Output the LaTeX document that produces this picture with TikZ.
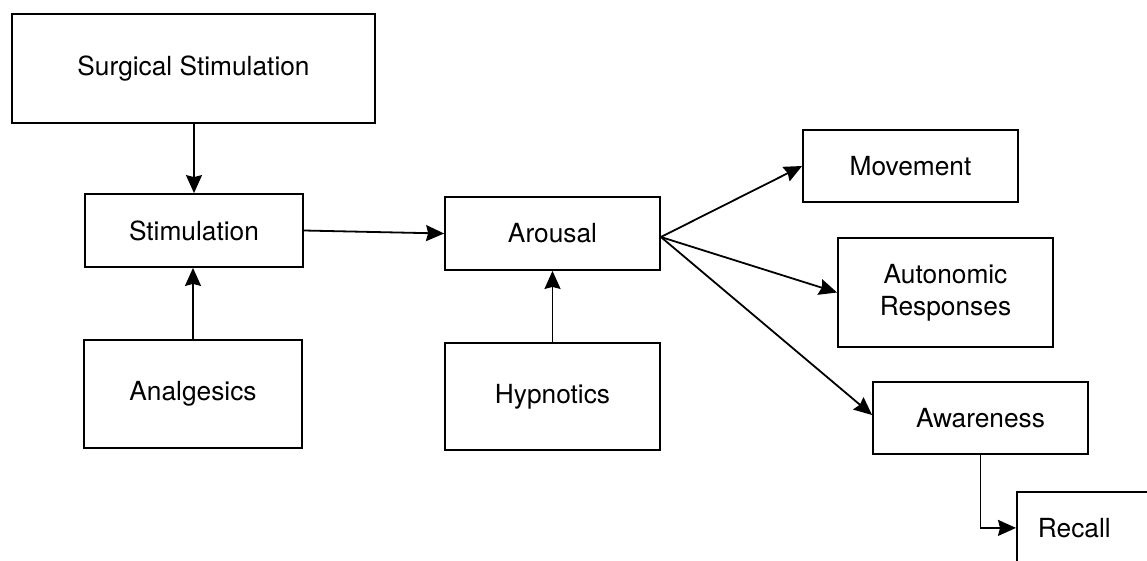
\documentclass[tikz,border=0pt]{standalone}
\usepackage{fontspec}
\setmainfont{TeX Gyre Heros}
\usetikzlibrary{arrows.meta}
\begin{document}
\begin{tikzpicture}[x=1pt,y=-1pt,
  box/.style={draw, line width=1.8pt, inner sep=0pt, align=center,
    font=\fontsize{26.3}{32}\selectfont},
  conn/.style={line width=1.8pt, -{Stealth[length=18pt,width=16pt,inset=2pt]}}]
\useasboundingbox (0,0) rectangle (1147,560);
\clip (0,0) rectangle (1147,560);

% left column: stimulus and analgesia
\node[box, minimum width=363pt, minimum height=109pt] (surg) at (193.5,68.5) {Surgical Stimulation};
\node[box, minimum width=218pt, minimum height=73pt] (stim) at (194,230.5) {Stimulation};
\node[box, minimum width=218pt, minimum height=108pt] (anal) at (193,394) {Analgesics};

% middle column: arousal and hypnotics
\node[box, minimum width=215pt, minimum height=73pt] (arou) at (552.5,233.5) {Arousal};
\node[box, minimum width=215pt, minimum height=107pt] (hypn) at (552.5,396.5) {Hypnotics};

% responses
\node[box, minimum width=215pt, minimum height=72pt] (move) at (910.5,166) {Movement};
\node[box, minimum width=215pt, minimum height=109pt] (auto) at (945.5,292.5) {Autonomic\\Responses};
\node[box, minimum width=215pt, minimum height=72pt] (aware) at (980.5,418) {Awareness};
\node[box, minimum width=215pt, minimum height=72pt, text width=173pt, align=left,
  inner xsep=21pt, anchor=north west] (recall) at (1016,491) {Recall};

% connectors
\coordinate (fan) at ([yshift=-3.5pt]arou.east);
\draw[conn] (surg.south -| stim.north) -- (stim.north);
\draw[conn] (anal.north) -- (anal.north |- stim.south);
\draw[conn] (stim.east) -- (arou.west);
\draw[conn] (hypn.north) -- (arou.south);
\draw[conn] (fan) -- (move.west);
\draw[conn] (fan) -- (auto.west);
\draw[conn] (fan) -- ([yshift=3pt]aware.west);
\draw[conn] (aware.south) |- (recall.west);
\end{tikzpicture}
\end{document}
